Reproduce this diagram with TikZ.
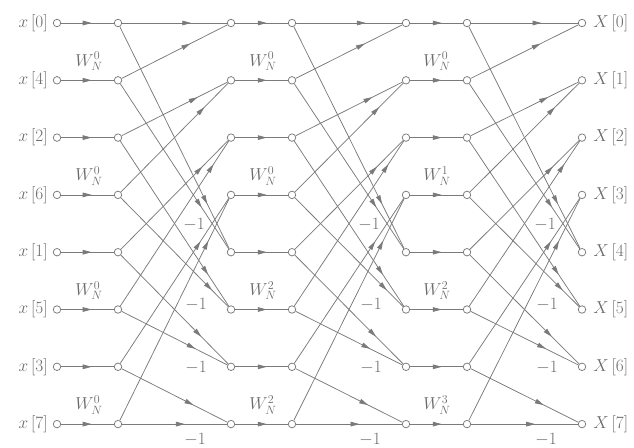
\documentclass[tikz,border=0pt]{standalone}
\usetikzlibrary{arrows.meta,decorations.markings}
\definecolor{lc}{gray}{0.48}
\definecolor{tc}{gray}{0.42}
\begin{document}
\begin{tikzpicture}[x=1pt,y=-1pt,
  line/.style={draw=lc,color=lc,line width=0.75pt},
  dot/.style={circle,draw=lc,fill=white,line width=0.75pt,inner sep=0pt,minimum size=7.5pt},
  arr/.style={postaction={decorate},decoration={markings,mark=at position #1 with {\arrow[lc]{Triangle[length=9pt,width=4.6pt]}}}},
  lab/.style={text=tc,inner sep=0pt,font=\fontsize{17}{19}\selectfont},
]
\useasboundingbox (0,0) rectangle (634,447);
% nodes
\foreach \cn/\xx in {i/57,a/118,b/231,c/292,d/406,e/467,o/582}
  \foreach \r in {0,...,7}
    \node[dot] (\cn\r) at (\xx,23+57.3*\r) {};
% horizontal (twiddle) branches
\foreach \r in {0,...,7} {
  \draw[line,arr=0.58] (i\r) -- (a\r);
  \draw[line,arr=0.6] (b\r) -- (c\r);
  \draw[line,arr=0.6] (d\r) -- (e\r);
}
% butterflies
\foreach \s/\t in {a/b,c/d,e/o}
  \foreach \r/\pa/\pb/\pc/\pd in {0/0.66/0.65/0.80/0.75,1/0.72/0.78/0.81/0.85,2/0.76/0.86/0.75/0.70,3/0.74/0.81/0.68/0.60} {
    \pgfmathtruncatemacro\rev{2*\r}
    \pgfmathtruncatemacro\rod{2*\r+1}
    \pgfmathtruncatemacro\rlo{\r+4}
    \draw[line,arr=\pa] (\s\rev) -- (\t\r);
    \draw[line,arr=\pb] (\s\rod) -- (\t\r);
    \draw[line,arr=\pc] (\s\rev) -- (\t\rlo);
    \draw[line,arr=\pd] (\s\rod) -- (\t\rlo);
  }
% input / output labels
\foreach \r/\n in {0/0,1/4,2/2,3/6,4/1,5/5,6/3,7/7}
  \node[lab,anchor=east] (xl\r) at ([xshift=-5pt]i\r.west) {$x\,[\n]$};
\foreach \r in {0,...,7}
  \node[lab,anchor=west] (Xl\r) at ([xshift=7pt]o\r.east) {$X\,[\r]$};
% twiddle labels
\foreach \r/\ka/\kb/\kc in {1/0/0/0,3/0/0/1,5/0/2/2,7/0/2/3} {
  \node[lab] (wa\r) at (89,4+57.3*\r) {$W_N^{\ka}$};
  \node[lab] (wb\r) at (263,4+57.3*\r) {$W_N^{\kb}$};
  \node[lab] (wc\r) at (437,4+57.3*\r) {$W_N^{\kc}$};
}
% -1 labels
\foreach \t in {b,d,o} {
  \node[lab] (m4\t) at ([shift={(-37,-28)}]\t4) {$-1$};
  \node[lab] (m5\t) at ([shift={(-35,-5)}]\t5) {$-1$};
  \node[lab] (m6\t) at ([shift={(-35,1)}]\t6) {$-1$};
  \node[lab] (m7\t) at ([shift={(-36,16)}]\t7) {$-1$};
}
\end{tikzpicture}
\end{document}
